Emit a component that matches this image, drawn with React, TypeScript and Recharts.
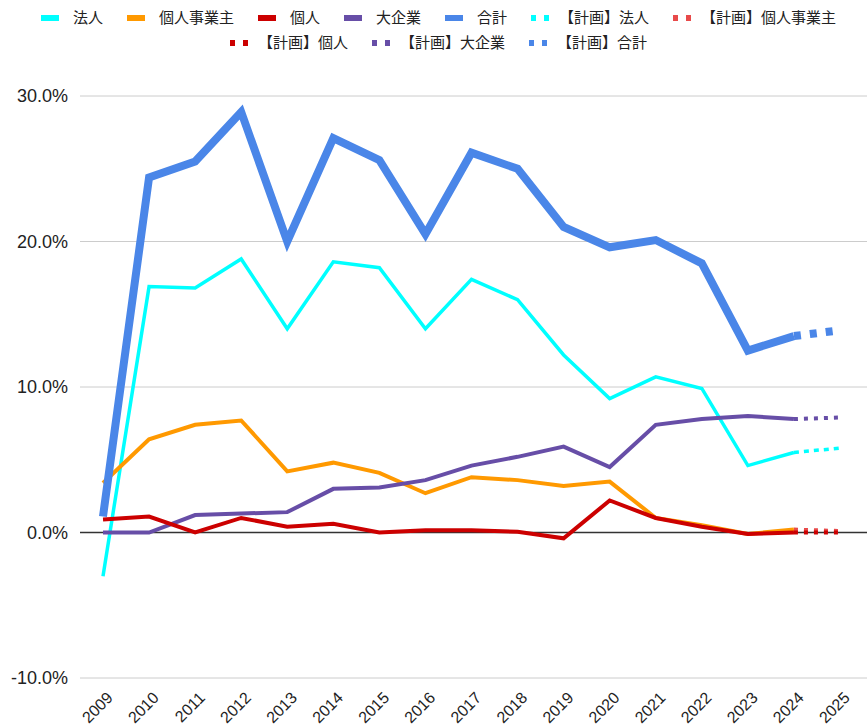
import { CartesianGrid, Line, LineChart, ReferenceLine, XAxis, YAxis } from "recharts";

const years = ["2009", "2010", "2011", "2012", "2013", "2014", "2015", "2016", "2017", "2018", "2019", "2020", "2021", "2022", "2023", "2024", "2025"];

const houjin = [-3.0, 16.9, 16.8, 18.8, 14.0, 18.6, 18.2, 14.0, 17.4, 16.0, 12.2, 9.2, 10.7, 9.9, 4.6, 5.5, null];
const kojinJigyo = [3.4, 6.4, 7.4, 7.7, 4.2, 4.8, 4.1, 2.7, 3.8, 3.6, 3.2, 3.5, 1.0, 0.5, -0.1, 0.2, null];
const kojin = [0.9, 1.1, 0.0, 1.0, 0.4, 0.6, 0.0, 0.15, 0.15, 0.05, -0.4, 2.2, 1.0, 0.4, -0.1, 0.0, null];
const daikigyo = [0.0, 0.0, 1.2, 1.3, 1.4, 3.0, 3.1, 3.6, 4.6, 5.2, 5.9, 4.5, 7.4, 7.8, 8.0, 7.8, null];
const goukei = [1.1, 24.4, 25.5, 28.9, 20.0, 27.1, 25.6, 20.5, 26.1, 25.0, 21.0, 19.6, 20.1, 18.5, 12.5, 13.5, null];

// plan values: only 2024 -> 2025
const planHoujin = [5.5, 5.8];
const planKojinJigyo = [0.2, 0.1];
const planKojin = [0.0, 0.0];
const planDaikigyo = [7.8, 7.9];
const planGoukei = [13.5, 13.9];

const yTicks = [-10, 0, 10, 20, 30];

const planAt = (arr: number[], i: number) => (i >= years.length - 2 ? arr[i - (years.length - 2)] : null);

const data = years.map((y, i) => ({
  year: y,
  houjin: houjin[i],
  kojinJigyo: kojinJigyo[i],
  kojin: kojin[i],
  daikigyo: daikigyo[i],
  goukei: goukei[i],
  pHoujin: planAt(planHoujin, i),
  pKojinJigyo: planAt(planKojinJigyo, i),
  pKojin: planAt(planKojin, i),
  pDaikigyo: planAt(planDaikigyo, i),
  pGoukei: planAt(planGoukei, i),
}));

const FONT = "'Liberation Sans', Arial, 'Noto Sans CJK JP', sans-serif";

const legendRow1 = [
  { name: "法人", color: "#00ffff", dashed: false },
  { name: "個人事業主", color: "#ff9900", dashed: false },
  { name: "個人", color: "#cc0000", dashed: false },
  { name: "大企業", color: "#674ea7", dashed: false },
  { name: "合計", color: "#4a86e8", dashed: false },
  { name: "【計画】法人", color: "#00ffff", dashed: true },
  { name: "【計画】個人事業主", color: "#e84a4a", dashed: true },
];
const legendRow2 = [
  { name: "【計画】個人", color: "#cc0000", dashed: true },
  { name: "【計画】大企業", color: "#674ea7", dashed: true },
  { name: "【計画】合計", color: "#4a86e8", dashed: true },
];

function LegendItem({ name, color, dashed, last }: { name: string; color: string; dashed: boolean; last?: boolean }) {
  return (
    <div style={{ display: "flex", alignItems: "center", marginRight: last ? 0 : 24 }}>
      {dashed ? (
        <span style={{ display: "flex", justifyContent: "space-between", width: 18, marginRight: 10 }}>
          <span style={{ width: 5, height: 6, background: color }} />
          <span style={{ width: 5, height: 6, background: color }} />
        </span>
      ) : (
        <span style={{ width: 18, height: 6, background: color, marginRight: 14 }} />
      )}
      <span>{name}</span>
    </div>
  );
}

const XTick = (props: any) => {
  const { x, y, payload } = props;
  return (
    <g transform={`translate(${x + 8},${y + 10})`}>
      <text textAnchor="end" transform="rotate(-45)" fontSize={16} fill="#222" fontFamily={FONT} dy={4}>
        {payload.value}
      </text>
    </g>
  );
};

export default function App() {
  return (
    <div style={{ position: "relative", width: 867, height: 728, background: "#fff", fontFamily: FONT }}>
      <style>{"body{margin:0}"}</style>
      <div style={{ position: "absolute", top: 8, left: 0, width: 867, fontSize: 15, lineHeight: "20px", color: "#222" }}>
        <div style={{ display: "flex", justifyContent: "center", paddingLeft: 10 }}>
          {legendRow1.map((l, i) => (
            <LegendItem key={l.name} {...l} last={i === legendRow1.length - 1} />
          ))}
        </div>
        <div style={{ display: "flex", justifyContent: "center", marginTop: 5, paddingLeft: 10 }}>
          {legendRow2.map((l, i) => (
            <LegendItem key={l.name} {...l} last={i === legendRow2.length - 1} />
          ))}
        </div>
      </div>
      <LineChart width={867} height={728} data={data} margin={{ top: 96, right: 0, bottom: 0, left: 0 }}>
        <CartesianGrid vertical={false} stroke="#cccccc" />
        <XAxis
          dataKey="year"
          axisLine={false}
          tickLine={false}
          height={50}
          interval={0}
          padding={{ left: 23, right: 27 }}
          tick={<XTick />}
        />
        <YAxis
          width={80}
          domain={[-10, 30]}
          ticks={yTicks}
          axisLine={false}
          tickLine={false}
          tickSize={0}
          tickMargin={12}
          tickFormatter={(v: number) => `${v.toFixed(1)}%`}
          tick={{ fontSize: 18, fill: "#222", fontFamily: FONT }}
        />
        <ReferenceLine y={0} stroke="#333" strokeWidth={1.5} />
        <Line dataKey="houjin" stroke="#00ffff" strokeWidth={3.5} dot={false} isAnimationActive={false} />
        <Line dataKey="kojinJigyo" stroke="#ff9900" strokeWidth={4} dot={false} isAnimationActive={false} />
        <Line dataKey="daikigyo" stroke="#674ea7" strokeWidth={4} dot={false} isAnimationActive={false} />
        <Line dataKey="goukei" stroke="#4a86e8" strokeWidth={8} dot={false} isAnimationActive={false} />
        <Line dataKey="kojin" stroke="#cc0000" strokeWidth={4} dot={false} isAnimationActive={false} />
        <Line dataKey="pHoujin" stroke="#00ffff" strokeWidth={3.5} strokeDasharray="5 5" dot={false} isAnimationActive={false} />
        <Line dataKey="pKojinJigyo" stroke="#e84a4a" strokeWidth={4} strokeDasharray="4 6" dot={false} isAnimationActive={false} />
        <Line dataKey="pKojin" stroke="#cc0000" strokeWidth={4} strokeDasharray="4 6" dot={false} isAnimationActive={false} />
        <Line dataKey="pDaikigyo" stroke="#674ea7" strokeWidth={4} strokeDasharray="4 6" dot={false} isAnimationActive={false} />
        <Line dataKey="pGoukei" stroke="#4a86e8" strokeWidth={8} strokeDasharray="7 9" dot={false} isAnimationActive={false} />
      </LineChart>
    </div>
  );
}
